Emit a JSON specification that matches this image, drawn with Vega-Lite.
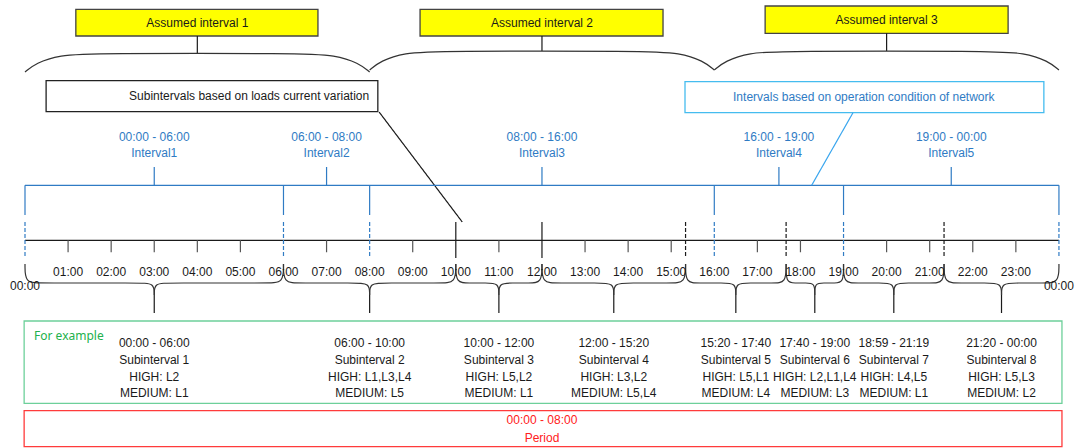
{
  "$schema": "https://vega.github.io/schema/vega-lite/v6.json",
  "width": 1076,
  "height": 448,
  "padding": 0,
  "autosize": {"type": "fit", "contains": "padding"},
  "config": {"view": {"stroke": null}, "text": {"font": "Liberation Sans", "fontSize": 12}},
  "datasets": {
    "boxes": [
      {"x": 1.18, "x2": 6.8, "y": 9.3, "y2": 36, "k": "yellow"},
      {"x": 9.17, "x2": 14.81, "y": 9.3, "y2": 36, "k": "yellow"},
      {"x": 17.18, "x2": 22.82, "y": 6, "y2": 33.3, "k": "yellow"},
      {"x": 0.49, "x2": 8.19, "y": 80.7, "y2": 111.7, "k": "black"},
      {"x": 15.32, "x2": 23.65, "y": 81.7, "y2": 112.7, "k": "cyan"},
      {"x": -0.02, "x2": 24.07, "y": 321, "y2": 403.3, "k": "green"},
      {"x": -0.02, "x2": 24.07, "y": 410.7, "y2": 446.7, "k": "red"}
    ],
    "segs": [
      {"x": 4, "y": 36, "x2": 4, "y2": 53.3, "k": "black"},
      {"x": 12, "y": 36, "x2": 12, "y2": 51, "k": "black"},
      {"x": 20, "y": 33.3, "x2": 20, "y2": 51, "k": "black"},
      {"x": 8.22, "y": 112, "x2": 10.15, "y2": 222, "k": "black"},
      {"x": 0, "y": 240.3, "x2": 24, "y2": 240.3, "k": "black"},
      {"x": 10, "y": 222, "x2": 10, "y2": 258, "k": "black"},
      {"x": 12, "y": 222, "x2": 12, "y2": 258, "k": "black"},
      {"x": 15.333, "y": 222, "x2": 15.333, "y2": 258, "k": "blackdash"},
      {"x": 17.667, "y": 222, "x2": 17.667, "y2": 258, "k": "blackdash"},
      {"x": 21.333, "y": 222, "x2": 21.333, "y2": 258, "k": "blackdash"},
      {"x": 3, "y": 295, "x2": 3, "y2": 313, "k": "black"},
      {"x": 8, "y": 295, "x2": 8, "y2": 313, "k": "black"},
      {"x": 11, "y": 295, "x2": 11, "y2": 313, "k": "black"},
      {"x": 13.667, "y": 295, "x2": 13.667, "y2": 313, "k": "black"},
      {"x": 16.5, "y": 295, "x2": 16.5, "y2": 313, "k": "black"},
      {"x": 18.333, "y": 295, "x2": 18.333, "y2": 313, "k": "black"},
      {"x": 20.167, "y": 295, "x2": 20.167, "y2": 313, "k": "black"},
      {"x": 22.667, "y": 295, "x2": 22.667, "y2": 313, "k": "black"},
      {"x": 1, "y": 240.3, "x2": 1, "y2": 252.3, "k": "tick"},
      {"x": 2, "y": 240.3, "x2": 2, "y2": 252.3, "k": "tick"},
      {"x": 3, "y": 240.3, "x2": 3, "y2": 252.3, "k": "tick"},
      {"x": 4, "y": 240.3, "x2": 4, "y2": 252.3, "k": "tick"},
      {"x": 5, "y": 240.3, "x2": 5, "y2": 252.3, "k": "tick"},
      {"x": 7, "y": 240.3, "x2": 7, "y2": 252.3, "k": "tick"},
      {"x": 9, "y": 240.3, "x2": 9, "y2": 252.3, "k": "tick"},
      {"x": 11, "y": 240.3, "x2": 11, "y2": 252.3, "k": "tick"},
      {"x": 13, "y": 240.3, "x2": 13, "y2": 252.3, "k": "tick"},
      {"x": 14, "y": 240.3, "x2": 14, "y2": 252.3, "k": "tick"},
      {"x": 15, "y": 240.3, "x2": 15, "y2": 252.3, "k": "tick"},
      {"x": 17, "y": 240.3, "x2": 17, "y2": 252.3, "k": "tick"},
      {"x": 18, "y": 240.3, "x2": 18, "y2": 252.3, "k": "tick"},
      {"x": 20, "y": 240.3, "x2": 20, "y2": 252.3, "k": "tick"},
      {"x": 21, "y": 240.3, "x2": 21, "y2": 252.3, "k": "tick"},
      {"x": 22, "y": 240.3, "x2": 22, "y2": 252.3, "k": "tick"},
      {"x": 23, "y": 240.3, "x2": 23, "y2": 252.3, "k": "tick"},
      {"x": 0, "y": 185.3, "x2": 24, "y2": 185.3, "k": "blue"},
      {"x": 3, "y": 167, "x2": 3, "y2": 185.3, "k": "blue"},
      {"x": 7, "y": 167, "x2": 7, "y2": 185.3, "k": "blue"},
      {"x": 12, "y": 167, "x2": 12, "y2": 185.3, "k": "blue"},
      {"x": 17.5, "y": 167, "x2": 17.5, "y2": 185.3, "k": "blue"},
      {"x": 21.5, "y": 167, "x2": 21.5, "y2": 185.3, "k": "blue"},
      {"x": 0, "y": 185.3, "x2": 0, "y2": 215, "k": "blue"},
      {"x": 6, "y": 185.3, "x2": 6, "y2": 215, "k": "blue"},
      {"x": 8, "y": 185.3, "x2": 8, "y2": 215, "k": "blue"},
      {"x": 16, "y": 185.3, "x2": 16, "y2": 215, "k": "blue"},
      {"x": 19, "y": 185.3, "x2": 19, "y2": 215, "k": "blue"},
      {"x": 24, "y": 185.3, "x2": 24, "y2": 215, "k": "blue"},
      {"x": 0, "y": 222, "x2": 0, "y2": 258, "k": "bluedash"},
      {"x": 6, "y": 222, "x2": 6, "y2": 258, "k": "bluedash"},
      {"x": 8, "y": 222, "x2": 8, "y2": 258, "k": "bluedash"},
      {"x": 16, "y": 222, "x2": 16, "y2": 258, "k": "bluedash"},
      {"x": 19, "y": 222, "x2": 19, "y2": 258, "k": "bluedash"},
      {"x": 24, "y": 222, "x2": 24, "y2": 258, "k": "bluedash"},
      {"x": 19.22, "y": 112.7, "x2": 18.26, "y2": 185.3, "k": "cyan"}
    ],
    "curves": [
      {"g": "t1", "o": 1, "x": 0, "y": 72}, {"g": "t1", "o": 2, "x": 0.25, "y": 63}, {"g": "t1", "o": 3, "x": 0.8, "y": 55}, {"g": "t1", "o": 4, "x": 1.6, "y": 53.3},
      {"g": "t1", "o": 5, "x": 6.4, "y": 53.3}, {"g": "t1", "o": 6, "x": 7.2, "y": 55}, {"g": "t1", "o": 7, "x": 7.75, "y": 63}, {"g": "t1", "o": 8, "x": 8, "y": 72},
      {"g": "t2", "o": 1, "x": 8, "y": 70}, {"g": "t2", "o": 2, "x": 8.25, "y": 61}, {"g": "t2", "o": 3, "x": 8.8, "y": 52.7}, {"g": "t2", "o": 4, "x": 9.6, "y": 51},
      {"g": "t2", "o": 5, "x": 14.4, "y": 51}, {"g": "t2", "o": 6, "x": 15.2, "y": 52.7}, {"g": "t2", "o": 7, "x": 15.75, "y": 61}, {"g": "t2", "o": 8, "x": 16, "y": 70},
      {"g": "t3", "o": 1, "x": 16, "y": 70}, {"g": "t3", "o": 2, "x": 16.25, "y": 61}, {"g": "t3", "o": 3, "x": 16.8, "y": 52.7}, {"g": "t3", "o": 4, "x": 17.6, "y": 51},
      {"g": "t3", "o": 5, "x": 22.4, "y": 51}, {"g": "t3", "o": 6, "x": 23.2, "y": 52.7}, {"g": "t3", "o": 7, "x": 23.75, "y": 61}, {"g": "t3", "o": 8, "x": 24, "y": 70},

      {"g": "b1L", "o": 1, "x": 0, "y": 264}, {"g": "b1L", "o": 2, "x": 0, "y": 283}, {"g": "b1L", "o": 3, "x": 0.35, "y": 283}, {"g": "b1L", "o": 4, "x": 2.65, "y": 283}, {"g": "b1L", "o": 5, "x": 3, "y": 283}, {"g": "b1L", "o": 6, "x": 3, "y": 295},
      {"g": "b1R", "o": 1, "x": 6, "y": 264}, {"g": "b1R", "o": 2, "x": 6, "y": 283}, {"g": "b1R", "o": 3, "x": 5.65, "y": 283}, {"g": "b1R", "o": 4, "x": 3.35, "y": 283}, {"g": "b1R", "o": 5, "x": 3, "y": 283}, {"g": "b1R", "o": 6, "x": 3, "y": 295},
      {"g": "b2L", "o": 1, "x": 6, "y": 264}, {"g": "b2L", "o": 2, "x": 6, "y": 283}, {"g": "b2L", "o": 3, "x": 6.35, "y": 283}, {"g": "b2L", "o": 4, "x": 7.65, "y": 283}, {"g": "b2L", "o": 5, "x": 8, "y": 283}, {"g": "b2L", "o": 6, "x": 8, "y": 295},
      {"g": "b2R", "o": 1, "x": 10, "y": 264}, {"g": "b2R", "o": 2, "x": 10, "y": 283}, {"g": "b2R", "o": 3, "x": 9.65, "y": 283}, {"g": "b2R", "o": 4, "x": 8.35, "y": 283}, {"g": "b2R", "o": 5, "x": 8, "y": 283}, {"g": "b2R", "o": 6, "x": 8, "y": 295},
      {"g": "b3L", "o": 1, "x": 10, "y": 264}, {"g": "b3L", "o": 2, "x": 10, "y": 283}, {"g": "b3L", "o": 3, "x": 10.3, "y": 283}, {"g": "b3L", "o": 4, "x": 10.7, "y": 283}, {"g": "b3L", "o": 5, "x": 11, "y": 283}, {"g": "b3L", "o": 6, "x": 11, "y": 295},
      {"g": "b3R", "o": 1, "x": 12, "y": 264}, {"g": "b3R", "o": 2, "x": 12, "y": 283}, {"g": "b3R", "o": 3, "x": 11.7, "y": 283}, {"g": "b3R", "o": 4, "x": 11.3, "y": 283}, {"g": "b3R", "o": 5, "x": 11, "y": 283}, {"g": "b3R", "o": 6, "x": 11, "y": 295},
      {"g": "b4L", "o": 1, "x": 12, "y": 264}, {"g": "b4L", "o": 2, "x": 12, "y": 283}, {"g": "b4L", "o": 3, "x": 12.35, "y": 283}, {"g": "b4L", "o": 4, "x": 13.317, "y": 283}, {"g": "b4L", "o": 5, "x": 13.667, "y": 283}, {"g": "b4L", "o": 6, "x": 13.667, "y": 295},
      {"g": "b4R", "o": 1, "x": 15.333, "y": 264}, {"g": "b4R", "o": 2, "x": 15.333, "y": 283}, {"g": "b4R", "o": 3, "x": 14.983, "y": 283}, {"g": "b4R", "o": 4, "x": 14.017, "y": 283}, {"g": "b4R", "o": 5, "x": 13.667, "y": 283}, {"g": "b4R", "o": 6, "x": 13.667, "y": 295},
      {"g": "b5L", "o": 1, "x": 15.333, "y": 264}, {"g": "b5L", "o": 2, "x": 15.333, "y": 283}, {"g": "b5L", "o": 3, "x": 15.633, "y": 283}, {"g": "b5L", "o": 4, "x": 16.2, "y": 283}, {"g": "b5L", "o": 5, "x": 16.5, "y": 283}, {"g": "b5L", "o": 6, "x": 16.5, "y": 295},
      {"g": "b5R", "o": 1, "x": 17.667, "y": 264}, {"g": "b5R", "o": 2, "x": 17.667, "y": 283}, {"g": "b5R", "o": 3, "x": 17.367, "y": 283}, {"g": "b5R", "o": 4, "x": 16.8, "y": 283}, {"g": "b5R", "o": 5, "x": 16.5, "y": 283}, {"g": "b5R", "o": 6, "x": 16.5, "y": 295},
      {"g": "b6L", "o": 1, "x": 17.667, "y": 264}, {"g": "b6L", "o": 2, "x": 17.667, "y": 283}, {"g": "b6L", "o": 3, "x": 17.867, "y": 283}, {"g": "b6L", "o": 4, "x": 18.133, "y": 283}, {"g": "b6L", "o": 5, "x": 18.333, "y": 283}, {"g": "b6L", "o": 6, "x": 18.333, "y": 295},
      {"g": "b6R", "o": 1, "x": 19, "y": 264}, {"g": "b6R", "o": 2, "x": 19, "y": 283}, {"g": "b6R", "o": 3, "x": 18.8, "y": 283}, {"g": "b6R", "o": 4, "x": 18.533, "y": 283}, {"g": "b6R", "o": 5, "x": 18.333, "y": 283}, {"g": "b6R", "o": 6, "x": 18.333, "y": 295},
      {"g": "b7L", "o": 1, "x": 19, "y": 264}, {"g": "b7L", "o": 2, "x": 19, "y": 283}, {"g": "b7L", "o": 3, "x": 19.3, "y": 283}, {"g": "b7L", "o": 4, "x": 19.867, "y": 283}, {"g": "b7L", "o": 5, "x": 20.167, "y": 283}, {"g": "b7L", "o": 6, "x": 20.167, "y": 295},
      {"g": "b7R", "o": 1, "x": 21.333, "y": 264}, {"g": "b7R", "o": 2, "x": 21.333, "y": 283}, {"g": "b7R", "o": 3, "x": 21.033, "y": 283}, {"g": "b7R", "o": 4, "x": 20.467, "y": 283}, {"g": "b7R", "o": 5, "x": 20.167, "y": 283}, {"g": "b7R", "o": 6, "x": 20.167, "y": 295},
      {"g": "b8L", "o": 1, "x": 21.333, "y": 264}, {"g": "b8L", "o": 2, "x": 21.333, "y": 283}, {"g": "b8L", "o": 3, "x": 21.683, "y": 283}, {"g": "b8L", "o": 4, "x": 22.317, "y": 283}, {"g": "b8L", "o": 5, "x": 22.667, "y": 283}, {"g": "b8L", "o": 6, "x": 22.667, "y": 295},
      {"g": "b8R", "o": 1, "x": 24, "y": 264}, {"g": "b8R", "o": 2, "x": 24, "y": 283}, {"g": "b8R", "o": 3, "x": 23.65, "y": 283}, {"g": "b8R", "o": 4, "x": 23.017, "y": 283}, {"g": "b8R", "o": 5, "x": 22.667, "y": 283}, {"g": "b8R", "o": 6, "x": 22.667, "y": 295}
    ],
    "texts": [
      {"x": 4, "y": 22.7, "t": "Assumed interval 1", "k": "black"},
      {"x": 12, "y": 22.7, "t": "Assumed interval 2", "k": "black"},
      {"x": 20, "y": 19.7, "t": "Assumed interval 3", "k": "black"},
      {"x": 19.47, "y": 97.2, "t": "Intervals based on operation condition of network", "k": "blue"},
      {"x": 3, "y": 136.7, "t": "00:00 - 06:00", "k": "blue"},
      {"x": 3, "y": 153.3, "t": "Interval1", "k": "blue"},
      {"x": 7, "y": 136.7, "t": "06:00 - 08:00", "k": "blue"},
      {"x": 7, "y": 153.3, "t": "Interval2", "k": "blue"},
      {"x": 12, "y": 136.7, "t": "08:00 - 16:00", "k": "blue"},
      {"x": 12, "y": 153.3, "t": "Interval3", "k": "blue"},
      {"x": 17.5, "y": 136.7, "t": "16:00 - 19:00", "k": "blue"},
      {"x": 17.5, "y": 153.3, "t": "Interval4", "k": "blue"},
      {"x": 21.5, "y": 136.7, "t": "19:00 - 00:00", "k": "blue"},
      {"x": 21.5, "y": 153.3, "t": "Interval5", "k": "blue"},
      {"x": 1, "y": 271.7, "t": "01:00", "k": "black"},
      {"x": 2, "y": 271.7, "t": "02:00", "k": "black"},
      {"x": 3, "y": 271.7, "t": "03:00", "k": "black"},
      {"x": 4, "y": 271.7, "t": "04:00", "k": "black"},
      {"x": 5, "y": 271.7, "t": "05:00", "k": "black"},
      {"x": 6, "y": 271.7, "t": "06:00", "k": "black"},
      {"x": 7, "y": 271.7, "t": "07:00", "k": "black"},
      {"x": 8, "y": 271.7, "t": "08:00", "k": "black"},
      {"x": 9, "y": 271.7, "t": "09:00", "k": "black"},
      {"x": 10, "y": 271.7, "t": "10:00", "k": "black"},
      {"x": 11, "y": 271.7, "t": "11:00", "k": "black"},
      {"x": 12, "y": 271.7, "t": "12:00", "k": "black"},
      {"x": 13, "y": 271.7, "t": "13:00", "k": "black"},
      {"x": 14, "y": 271.7, "t": "14:00", "k": "black"},
      {"x": 15, "y": 271.7, "t": "15:00", "k": "black"},
      {"x": 16, "y": 271.7, "t": "16:00", "k": "black"},
      {"x": 17, "y": 271.7, "t": "17:00", "k": "black"},
      {"x": 18, "y": 271.7, "t": "18:00", "k": "black"},
      {"x": 19, "y": 271.7, "t": "19:00", "k": "black"},
      {"x": 20, "y": 271.7, "t": "20:00", "k": "black"},
      {"x": 21, "y": 271.7, "t": "21:00", "k": "black"},
      {"x": 22, "y": 271.7, "t": "22:00", "k": "black"},
      {"x": 23, "y": 271.7, "t": "23:00", "k": "black"},
      {"x": 0, "y": 285.7, "t": "00:00", "k": "black"},
      {"x": 24, "y": 285.7, "t": "00:00", "k": "black"},
      {"x": 3, "y": 342.7, "t": "00:00 - 06:00", "k": "black"},
      {"x": 3, "y": 360, "t": "Subinterval 1", "k": "black"},
      {"x": 3, "y": 377.3, "t": "HIGH: L2", "k": "black"},
      {"x": 3, "y": 393.3, "t": "MEDIUM: L1", "k": "black"},
      {"x": 8, "y": 342.7, "t": "06:00 - 10:00", "k": "black"},
      {"x": 8, "y": 360, "t": "Subinterval 2", "k": "black"},
      {"x": 8, "y": 377.3, "t": "HIGH: L1,L3,L4", "k": "black"},
      {"x": 8, "y": 393.3, "t": "MEDIUM: L5", "k": "black"},
      {"x": 11, "y": 342.7, "t": "10:00 - 12:00", "k": "black"},
      {"x": 11, "y": 360, "t": "Subinterval 3", "k": "black"},
      {"x": 11, "y": 377.3, "t": "HIGH: L5,L2", "k": "black"},
      {"x": 11, "y": 393.3, "t": "MEDIUM: L1", "k": "black"},
      {"x": 13.667, "y": 342.7, "t": "12:00 - 15:20", "k": "black"},
      {"x": 13.667, "y": 360, "t": "Subinterval 4", "k": "black"},
      {"x": 13.667, "y": 377.3, "t": "HIGH: L3,L2", "k": "black"},
      {"x": 13.667, "y": 393.3, "t": "MEDIUM: L5,L4", "k": "black"},
      {"x": 16.5, "y": 342.7, "t": "15:20 - 17:40", "k": "black"},
      {"x": 16.5, "y": 360, "t": "Subinterval 5", "k": "black"},
      {"x": 16.5, "y": 377.3, "t": "HIGH: L5,L1", "k": "black"},
      {"x": 16.5, "y": 393.3, "t": "MEDIUM: L4", "k": "black"},
      {"x": 18.333, "y": 342.7, "t": "17:40 - 19:00", "k": "black"},
      {"x": 18.333, "y": 360, "t": "Subinterval 6", "k": "black"},
      {"x": 18.333, "y": 377.3, "t": "HIGH: L2,L1,L4", "k": "black"},
      {"x": 18.333, "y": 393.3, "t": "MEDIUM: L3", "k": "black"},
      {"x": 20.167, "y": 342.7, "t": "18:59 - 21:19", "k": "black"},
      {"x": 20.167, "y": 360, "t": "Subinterval 7", "k": "black"},
      {"x": 20.167, "y": 377.3, "t": "HIGH: L4,L5", "k": "black"},
      {"x": 20.167, "y": 393.3, "t": "MEDIUM: L1", "k": "black"},
      {"x": 22.667, "y": 342.7, "t": "21:20 - 00:00", "k": "black"},
      {"x": 22.667, "y": 360, "t": "Subinterval 8", "k": "black"},
      {"x": 22.667, "y": 377.3, "t": "HIGH: L5,L3", "k": "black"},
      {"x": 22.667, "y": 393.3, "t": "MEDIUM: L2", "k": "black"},
      {"x": 12, "y": 420, "t": "00:00 - 08:00", "k": "red"},
      {"x": 12, "y": 438.3, "t": "Period", "k": "red"}
    ],
    "textsR": [
      {"x": 7.99, "y": 96.2, "t": "Subintervals based on loads current variation", "k": "black"}
    ],
    "textsL": [
      {"x": 0.21, "y": 336, "t": "For example", "k": "green"}
    ]
  },
  "encoding": {
    "x": {"field": "x", "type": "quantitative", "axis": null, "scale": {"domain": [-0.5803, 24.396], "nice": false, "zero": false}},
    "y": {"field": "y", "type": "quantitative", "axis": null, "scale": {"domain": [0, 448], "reverse": true, "nice": false, "zero": false}}
  },
  "layer": [
    {
      "data": {"name": "boxes"},
      "mark": {"type": "rect", "strokeWidth": 1.3},
      "encoding": {
        "x2": {"field": "x2"},
        "y2": {"field": "y2"},
        "fill": {"field": "k", "type": "nominal", "legend": null, "scale": {"domain": ["yellow", "black", "cyan", "green", "red"], "range": ["#ffff00", "#ffffff", "#ffffff", "#ffffff", "#ffffff"]}},
        "stroke": {"field": "k", "type": "nominal", "legend": null, "scale": {"domain": ["yellow", "black", "cyan", "green", "red"], "range": ["#444444", "#222222", "#45bcef", "#6dd09a", "#ff3b3b"]}}
      }
    },
    {
      "data": {"name": "segs"},
      "mark": {"type": "rule", "strokeWidth": 1.2},
      "encoding": {
        "x2": {"field": "x2"},
        "y2": {"field": "y2"},
        "color": {"field": "k", "type": "nominal", "legend": null, "scale": {"domain": ["black", "blue", "bluedash", "blackdash", "tick", "cyan", "red", "green"], "range": ["#1a1a1a", "#2f7bc4", "#2f7bc4", "#1a1a1a", "#555555", "#3aa6ee", "#ff2020", "#22b14c"]}},
        "strokeDash": {"field": "k", "type": "nominal", "legend": null, "scale": {"domain": ["black", "blue", "bluedash", "blackdash", "tick", "cyan"], "range": [[1, 0], [1, 0], [4, 2], [4, 2], [1, 0], [1, 0]]}}
      }
    },
    {
      "data": {"name": "curves"},
      "mark": {"type": "line", "interpolate": "basis", "strokeWidth": 1.2, "color": "#333333"},
      "encoding": {
        "detail": {"field": "g", "type": "nominal"},
        "order": {"field": "o", "type": "quantitative"}
      }
    },
    {
      "data": {"name": "texts"},
      "mark": {"type": "text", "align": "center", "baseline": "middle"},
      "encoding": {
        "text": {"field": "t"},
        "color": {"field": "k", "type": "nominal", "legend": null, "scale": {"domain": ["black", "blue", "bluedash", "blackdash", "tick", "cyan", "red", "green"], "range": ["#1a1a1a", "#2f7bc4", "#2f7bc4", "#1a1a1a", "#555555", "#3aa6ee", "#ff2020", "#22b14c"]}}
      }
    },
    {
      "data": {"name": "textsR"},
      "mark": {"type": "text", "align": "right", "baseline": "middle", "color": "#1a1a1a"},
      "encoding": {"text": {"field": "t"}}
    },
    {
      "data": {"name": "textsL"},
      "mark": {"type": "text", "align": "left", "baseline": "middle", "font": "Noto Sans", "fontSize": 12, "color": "#22b14c"},
      "encoding": {"text": {"field": "t"}}
    }
  ]
}
